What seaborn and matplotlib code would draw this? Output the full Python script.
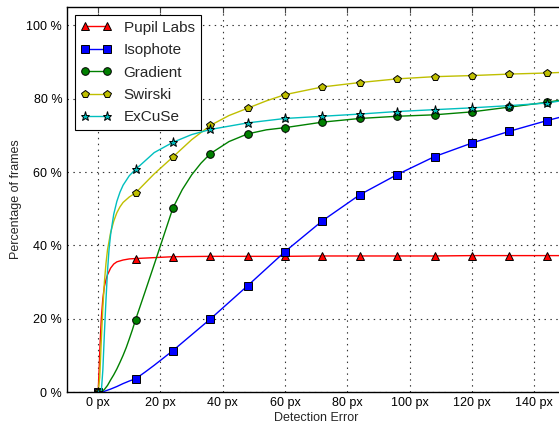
import numpy as np
import pandas as pd
import matplotlib
matplotlib.use("Agg")
import matplotlib.pyplot as plt
import seaborn as sns

# ── data (detection error in px, % of frames) ──
pupil_x = [0, 0.3, 0.6, 1, 1.5, 2, 2.5, 3, 4, 5, 6, 8, 10, 12, 24, 36, 48, 60, 72, 84, 96, 108, 120, 132, 144, 150]
pupil_y = [0, 6, 13, 20, 25.5, 28.8, 30.6, 32, 33.8, 34.9, 35.5, 36.0, 36.3, 36.4, 36.9, 37.0, 37.0, 37.0, 37.1, 37.1, 37.1, 37.1, 37.2, 37.2, 37.2, 37.2]

iso_x = [0, 1, 2, 4, 6, 8, 10, 12, 15, 18, 21, 24, 30, 36, 48, 60, 72, 84, 96, 108, 120, 132, 144, 150]
iso_y = [0, 0, 0.2, 0.8, 1.5, 2.3, 3.0, 3.6, 5.4, 7.3, 9.3, 11.3, 15.6, 19.9, 29.0, 38.3, 46.7, 53.8, 59.3, 64.2, 67.9, 71.1, 74.0, 75.3]

grad_x = [0, 1, 2, 3, 4, 5, 6, 7, 8, 9, 10, 11, 12, 15, 18, 21, 24, 27, 30, 33, 36, 42, 48, 54, 60, 72, 84, 96, 108, 120, 132, 144, 150]
grad_y = [0, 0, 0.7, 1.8, 3.3, 4.7, 6.3, 8.1, 10.0, 12.1, 14.5, 17.0, 19.7, 27.2, 34.8, 42.5, 50.2, 55.2, 59.2, 62.4, 65.0, 68.3, 70.4, 71.5, 72.1, 73.6, 74.6, 75.2, 75.6, 76.4, 77.7, 79.0, 79.8]

swir_x = [0, 0.5, 1, 1.5, 2, 2.5, 3, 4, 5, 6, 7, 8, 10, 12, 18, 24, 30, 36, 42, 48, 54, 60, 72, 84, 96, 108, 120, 132, 144, 150]
swir_y = [0, 4, 14, 23, 30, 35, 38.8, 43.5, 46.6, 48.9, 50.5, 51.7, 53.2, 54.3, 59.5, 64.1, 68.8, 72.7, 75.4, 77.4, 79.4, 81.1, 83.2, 84.4, 85.4, 86.0, 86.3, 86.7, 87.0, 87.2]

excu_x = [0, 1, 1.5, 2, 2.5, 3, 3.5, 4, 5, 6, 7, 8, 10, 12, 18, 24, 30, 36, 48, 60, 72, 84, 96, 108, 120, 132, 144, 150]
excu_y = [0, 0, 6, 16, 25, 33, 39, 43, 48.5, 52, 54.5, 56.4, 59.0, 60.7, 65.3, 68.1, 70.2, 71.6, 73.4, 74.6, 75.2, 75.8, 76.5, 77.0, 77.5, 78.1, 78.8, 79.6]

names = ["Pupil Labs", "Isophote", "Gradient", "Swirski", "ExCuSe"]
xs = [pupil_x, iso_x, grad_x, swir_x, excu_x]
ys = [pupil_y, iso_y, grad_y, swir_y, excu_y]

x_ticks = [0, 20, 40, 60, 80, 100, 120, 140]
y_ticks = [0, 20, 40, 60, 80, 100]

colors  = [(1, 0, 0), (0, 0, 1), (0, 0.5, 0), (0.75, 0.75, 0), (0, 0.75, 0.75)]
markers = ['^', 's', 'o', 'p', '*']
msizes  = [5.5, 5.5, 5.5, 6, 6.5]

# ── style ──
sns.set_style("white")
plt.rcParams['font.family'] = ['Liberation Sans', 'DejaVu Sans']
plt.rcParams['xtick.direction'] = 'in'
plt.rcParams['ytick.direction'] = 'in'
plt.rcParams['xtick.top'] = True
plt.rcParams['ytick.right'] = True

fig = plt.figure(figsize=(5.59, 4.29), dpi=100)
ax = fig.add_axes([0.1199, 0.0862, 0.8915, 0.8975])

for name, x, y, c, m, ms in zip(names, xs, ys, colors, markers, msizes):
    df = pd.DataFrame({"x": x, "y": y})
    idx = [i for i, v in enumerate(x) if v % 12 == 0]
    sns.lineplot(data=df, x="x", y="y", ax=ax, color=c, linewidth=1.0,
                 marker=m, markersize=ms, markevery=idx,
                 markerfacecolor=c, markeredgecolor='k',
                 markeredgewidth=0.7, label=name, sort=False)

ax.set_xlim(-10, 150)
ax.set_ylim(0, 105)
ax.set_xticks(x_ticks)
ax.set_xticklabels([f"{t} px" for t in x_ticks], fontsize=9)
ax.set_yticks(y_ticks)
ax.set_yticklabels([f"{t} %" for t in y_ticks], fontsize=9)
ax.tick_params(length=4, width=0.8, colors='#444444', labelcolor='black')
ax.grid(True, linestyle=(0, (1.3, 4)), color='#333333', linewidth=0.8)
for s in ax.spines.values():
    s.set_color('black')
    s.set_linewidth(1.0)

ax.set_xlabel("Detection Error", fontsize=9, labelpad=2)
ax.set_ylabel("Percentage of frames", fontsize=9, labelpad=3)

leg = ax.legend(loc='upper left', numpoints=2, fontsize=11, fancybox=False,
                framealpha=1, edgecolor='black', handlelength=2.0,
                labelspacing=0.55, borderaxespad=0.5)
leg.get_frame().set_linewidth(0.8)

plt.savefig("out.png", dpi=100)
